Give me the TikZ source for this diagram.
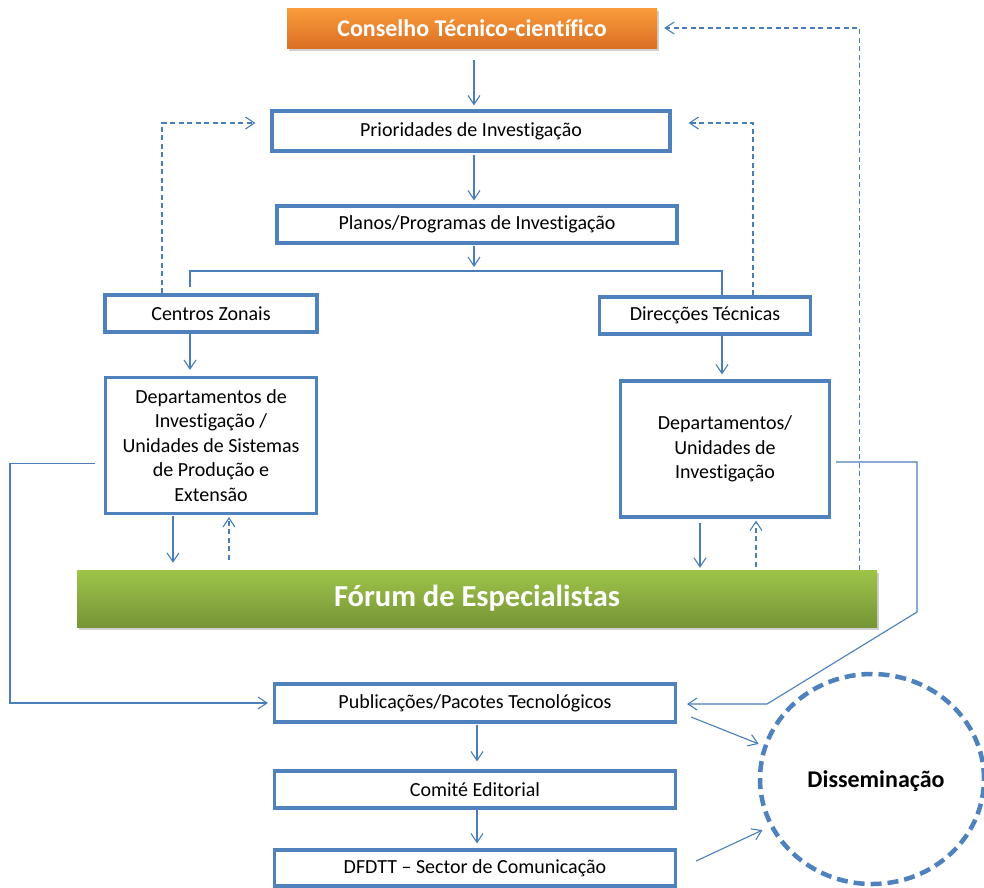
\documentclass[tikz,border=0pt]{standalone}
\usepackage{fontspec}
\setmainfont{Carlito}[Ligatures=NoCommon]
\usetikzlibrary{arrows.meta,shadows,shapes.geometric,calc}
\definecolor{bblue}{RGB}{79,129,189}
\definecolor{lblue}{RGB}{74,126,187}
\definecolor{orTop}{RGB}{250,155,60}
\definecolor{orBot}{RGB}{218,112,35}
\definecolor{grTop}{RGB}{158,196,74}
\definecolor{grBot}{RGB}{118,148,54}
\begin{document}
\begin{tikzpicture}[x=1pt,y=-1pt,
  box/.style={draw=bblue,line width=3.2pt,fill=white,rectangle,inner sep=0pt,align=center,
    font=\fontsize{20}{24.5}\selectfont,text=black},
  conn/.style={draw=lblue,line width=1.1pt},
  arr/.style={conn,-{Straight Barb[length=9pt,width=12pt]}},
  dasharr/.style={arr,dash pattern=on 5pt off 3.5pt},
  shadowed/.style={drop shadow={shadow xshift=2pt,shadow yshift=-3pt,opacity=0.3,fill=black!60}}]
\useasboundingbox (0,0) rectangle (984,887);
\fill[white] (0,0) rectangle (984,887);

% nodes
\node[shadowed,top color=orTop,bottom color=orBot,minimum width=370pt,minimum height=40pt,inner sep=0pt,
  text=white,font=\bfseries\fontsize{24}{28}\selectfont] (cons) at (472,28) {Conselho Técnico-científico};
\node[box,minimum width=398pt,minimum height=40pt] (prio) at (471,131) {Prioridades de Investigação};
\node[box,minimum width=400pt,minimum height=37pt] (plan) at (477,224.5) {Planos/Programas de Investigação};
\node[box,minimum width=212pt,minimum height=37pt] (cz) at (211,313.5) {Centros Zonais};
\node[box,minimum width=211pt,minimum height=37pt] (dt) at (705,315.5) {Direcções Técnicas};
\node[box,minimum width=211pt,minimum height=136pt] (dl) at (211,445.5)
  {Departamentos de\\Investigação /\\Unidades de Sistemas\\de Produção e\\Extensão};
\node[box,minimum width=209pt,minimum height=136pt] (dr) at (725,449)
  {Departamentos/\\Unidades de\\Investigação};
\node[shadowed,top color=grTop,bottom color=grBot,minimum width=800pt,minimum height=57pt,inner sep=0pt,
  text=white,font=\bfseries\fontsize{30.5}{34}\selectfont] (forum) at (477,598.5) {Fórum de Especialistas};
\node[box,minimum width=401pt,minimum height=38pt] (pub) at (475,703) {Publicações/Pacotes Tecnológicos};
\node[box,minimum width=401pt,minimum height=37pt] (com) at (475,789.5) {Comité Editorial};
\node[box,minimum width=401pt,minimum height=36pt] (dfd) at (475,868) {DFDTT – Sector de Comunicação};
\node[ellipse,draw=bblue,line width=4.5pt,dash pattern=on 11pt off 6pt,minimum width=224pt,minimum height=210pt,
  inner sep=0pt,font=\bfseries\fontsize{24}{28}\selectfont,text depth=0pt] (diss) at (872,779) {\hspace*{8pt}Disseminação};

% helper coordinates
\coordinate (ax) at (474,0);
\coordinate (ax2) at (477,0);
\coordinate (bl) at (190,271);
\coordinate (bm) at (474,271);
\coordinate (brr) at (722,271);
\coordinate (lx) at (10,0);
\coordinate (r1) at (917,612);
\coordinate (r2) at (767,704);

% main chain
\draw[arr,shorten <=12pt,shorten >=4pt] (cons.south -| ax) -- (prio.north -| ax);
\draw[arr,shorten <=2pt,shorten >=4pt] (prio.south -| ax) -- (plan.north -| ax);
\draw[arr,shorten <=1pt,shorten >=4pt] (plan.south -| ax) -- (bm);
\draw[conn] ([yshift=6pt]bl |- cz.north) -- (bl) -- (brr) -- (brr |- dt.north);
\draw[arr,shorten >=6pt] (cz.south -| bl) -- (dl.north -| bl);
\draw[arr,shorten >=5pt] (dt.south -| brr) -- (dr.north -| brr);

% dashed feedback
\draw[dasharr] ([xshift=-49pt]cz.north) |- ([xshift=-15pt,yshift=8pt]prio.west);
\draw[dasharr] ([xshift=48pt]dt.north) |- ([xshift=17pt,yshift=8pt]prio.east);
\draw[dasharr] ([xshift=-18pt]forum.north east) |- ([xshift=7pt]cons.east);

% departments <-> forum
\draw[arr,shorten <=1pt,shorten >=7pt] ([xshift=-38pt]dl.south) -- ([xshift=-38pt]dl.south |- forum.north);
\draw[dasharr,shorten <=10pt,shorten >=2pt] ([xshift=18pt]dl.south |- forum.north) -- ([xshift=18pt]dl.south);
\draw[arr,shorten <=4pt,shorten >=2pt] ([xshift=-25pt]dr.south) -- ([xshift=-25pt]dr.south |- forum.north);
\draw[dasharr,shorten <=3pt,shorten >=2pt] ([xshift=31pt]dr.south |- forum.north) -- ([xshift=31pt]dr.south);

% loops to publications
\draw[arr,shorten >=5pt] ([xshift=-9pt,yshift=-18pt]dl.west) -- ([yshift=-18pt]dl.west -| lx) |- (pub.west);
\draw[arr,shorten >=10pt] ([xshift=5pt,yshift=-13pt]dr.east) -- ([yshift=-13pt]dr.east -| r1) -- (r1) -- (r2) -- (r2 -| pub.east);

% bottom chain
\draw[arr,shorten <=1pt,shorten >=8pt] (pub.south -| ax2) -- (com.north -| ax2);
\draw[arr,shorten >=5pt] (com.south -| ax2) -- (dfd.north -| ax2);
\draw[arr,shorten >=5pt] ([xshift=14pt,yshift=-14pt]pub.east) -- (diss.163);
\draw[arr,shorten >=8pt] ([xshift=19pt,yshift=7pt]dfd.east) -- (diss.205);
\end{tikzpicture}
\end{document}
